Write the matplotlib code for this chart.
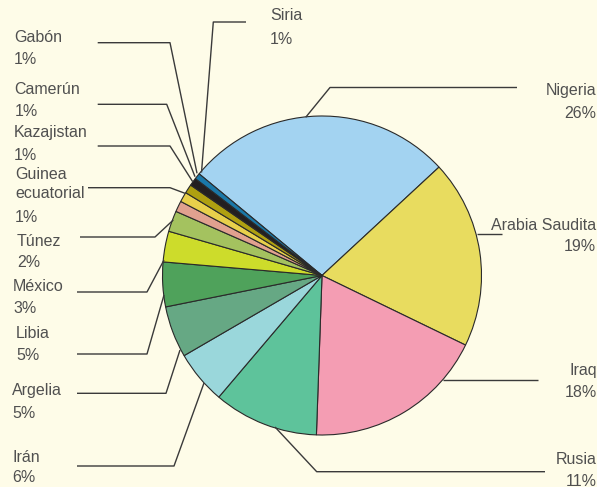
import matplotlib
matplotlib.use("Agg")
import matplotlib.pyplot as plt

# cuota por pais (%), en orden horario empezando por Nigeria
paises = ['Nigeria', 'Arabia Saudita', 'Iraq', 'Rusia', 'Irán', 'Argelia', 'Libia',
          'México', 'Túnez', 'Guinea\necuatorial', 'Kazajistan', 'Camerún', 'Gabón', 'Siria']
cuota = [27.0, 19.0, 18.3, 10.6, 5.4, 5.2, 4.5, 3.1, 2.1, 1.1, 1.0, 0.9, 0.8, 0.6]
etiquetas_pct = ['26%', '19%', '18%', '11%', '6%', '5%', '5%', '3%', '2%', '1%', '1%', '1%', '1%', '1%']
colores = ['#A3D3F1', '#E8DC5F', '#F49DB3', '#5EC39B', '#9AD7DB', '#66A884', '#4FA25B',
           '#CDDC2B', '#A4C25F', '#E1A18F', '#E8D04B', '#AFA011', '#231F20', '#1A78A8']

BG = '#FEFCE8'
TXT = '#505050'
W, H = 597, 487

fig = plt.figure(figsize=(W / 100, H / 100), dpi=100, facecolor=BG)
ax = fig.add_axes([0, 0, 1, 1])
ax.set_facecolor(BG)

cx, cy, r = 322, H - 275.5, 159.5
ax.pie(cuota, colors=colores, startangle=140.4, counterclock=False,
       center=(cx, cy), radius=r, frame=True,
       wedgeprops=dict(edgecolor='#2a2a2a', linewidth=0.8))

ax.set_xlim(0, W)
ax.set_ylim(0, H)
ax.set_aspect('equal')
ax.axis('off')

# lineas guia (en pixeles desde arriba): puntos de la polilinea
guias = {
    'Nigeria': [(517, 87.5), (330, 87.5), (305.7, 117.3)],
    'Arabia Saudita': [(502, 234), (476.7, 234)],
    'Iraq': [(538, 380), (443, 380)],
    'Rusia': [(545, 471.7), (316.7, 471.7), (275, 427)],
    'Irán': [(77, 466), (174, 466), (204, 383)],
    'Argelia': [(77, 393.3), (166, 393.3), (180, 350)],
    'Libia': [(77, 354), (147, 354), (164, 295)],
    'México': [(77, 292), (147, 292), (164, 260)],
    'Túnez': [(80, 237), (155, 237), (173.3, 220)],
    'Guinea\necuatorial': [(88, 187.7), (170, 187.7), (185, 193.3)],
    'Kazajistan': [(97.7, 146), (170, 146), (192.7, 181.7)],
    'Camerún': [(97.7, 104.3), (166.7, 104.3), (195, 176.7)],
    'Gabón': [(97.7, 42.7), (170, 42.7), (197, 173.3)],
    'Siria': [(246, 22), (213.3, 22), (201.5, 172.5)],
}
for nombre, pts in guias.items():
    xs = [p[0] for p in pts]
    ys = [H - p[1] for p in pts]
    ax.plot(xs, ys, color='#3a3a3a', lw=1.0, solid_capstyle='butt')

# posicion de textos: x, y del nombre, y del porcentaje, alineacion
textos = {
    'Nigeria': (596, 90, 113, 'right'),
    'Arabia Saudita': (596, 226, 246.5, 'right'),
    'Iraq': (597, 370, 392.5, 'right'),
    'Rusia': (597, 459, 481, 'right'),
    'Irán': (12, 457.5, 478, 'left'),
    'Argelia': (12, 391, 413, 'left'),
    'Libia': (16, 333.5, 356, 'left'),
    'México': (13, 286.5, 308.5, 'left'),
    'Túnez': (17, 241, 262.5, 'left'),
    'Guinea\necuatorial': (15, 184, 217, 'left'),
    'Kazajistan': (14, 133, 155, 'left'),
    'Camerún': (14.5, 90, 111, 'left'),
    'Gabón': (14, 38, 59, 'left'),
    'Siria': (270, 16, 39, 'left'),
}
fuente = ['Liberation Sans', 'DejaVu Sans']
for nombre, pct in zip(paises, etiquetas_pct):
    x, y1, y2, ha = textos[nombre]
    ax.text(x, H - y1, nombre, ha=ha, va='center', fontsize=11.5, color=TXT,
            family=fuente, linespacing=1.35)
    ax.text(x, H - y2, pct, ha=ha, va='center', fontsize=11.5, color=TXT, family=fuente)

fig.savefig('out.png', dpi=100, facecolor=BG)
